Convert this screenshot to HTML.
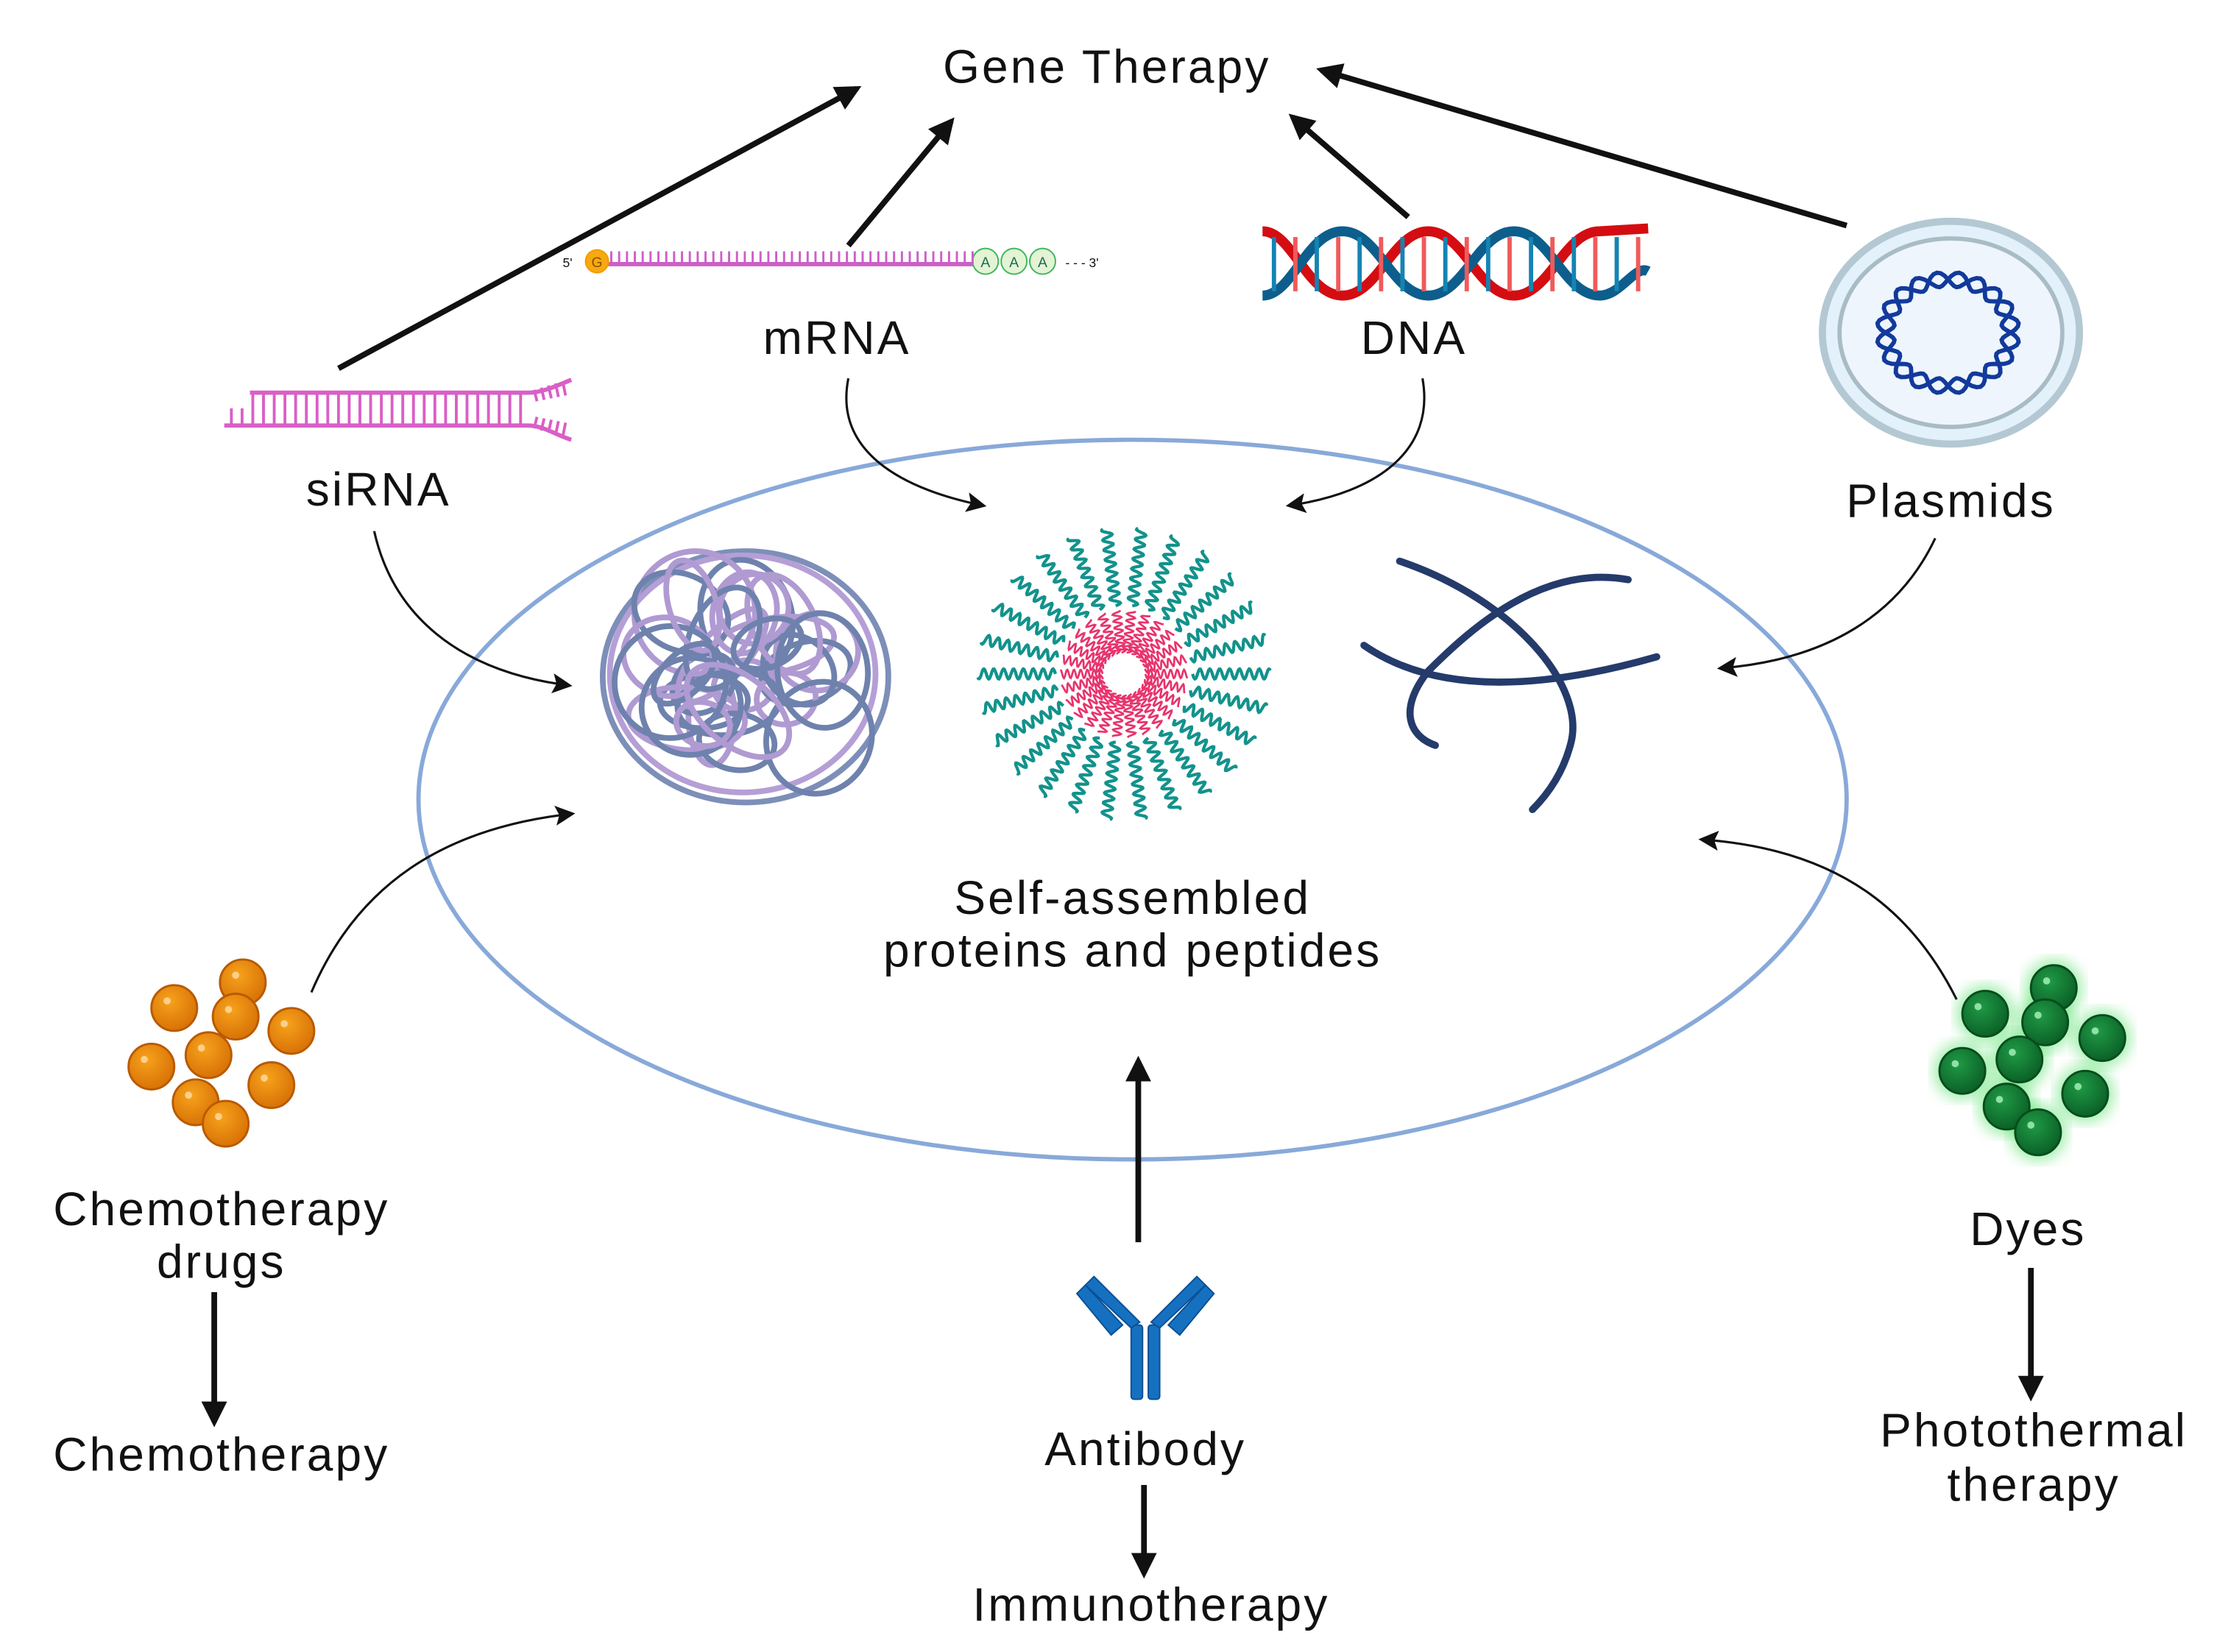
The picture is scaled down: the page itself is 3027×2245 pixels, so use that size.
<!DOCTYPE html>
<html><head><meta charset="utf-8"><style>
html,body{margin:0;padding:0;background:#fff;}
svg{display:block;}
text{font-family:"Liberation Sans",sans-serif;fill:#111;}
</style></head><body>
<svg id="s" width="3027" height="2245" viewBox="0 0 1560 1157" xmlns="http://www.w3.org/2000/svg">
<defs>
<marker id="ah" viewBox="0 0 10 10" refX="8" refY="5" markerWidth="14" markerHeight="14" orient="auto" markerUnits="userSpaceOnUse"><path d="M0,0 L10,5 L0,10 L2,5 z" fill="#111"/></marker>
<marker id="ab" viewBox="0 0 10 10" refX="8" refY="5" markerWidth="4.5" markerHeight="4.5" orient="auto"><path d="M0,0 L10,5 L0,10 z" fill="#111"/></marker>
<radialGradient id="og" cx="0.4" cy="0.35" r="0.7"><stop offset="0" stop-color="#f7a21c"/><stop offset="1" stop-color="#d66f05"/></radialGradient>
<radialGradient id="gg" cx="0.4" cy="0.35" r="0.7"><stop offset="0" stop-color="#1f9a45"/><stop offset="1" stop-color="#0a5d25"/></radialGradient>
<filter id="glow"><feGaussianBlur stdDeviation="5"/></filter>
</defs>

<ellipse cx="793" cy="560" rx="500" ry="252" fill="none" stroke="#88a9d9" stroke-width="3"/>

<g stroke="#111" stroke-width="4" fill="none">
<line x1="237" y1="258" x2="600" y2="62" marker-end="url(#ab)"/>
<line x1="594" y1="172" x2="666" y2="85" marker-end="url(#ab)"/>
<line x1="986" y1="152" x2="905" y2="82" marker-end="url(#ab)"/>
<line x1="1293" y1="158" x2="925" y2="49" marker-end="url(#ab)"/>
<line x1="797" y1="870" x2="797" y2="743" marker-end="url(#ab)"/>
<line x1="150" y1="905" x2="150" y2="996" marker-end="url(#ab)"/>
<line x1="801" y1="1040" x2="801" y2="1102" marker-end="url(#ab)"/>
<line x1="1422" y1="888" x2="1422" y2="978" marker-end="url(#ab)"/>
</g>
<g stroke="#111" stroke-width="1.6" fill="none">
<path d="M594,265 C585,310 620,340 688,354" marker-end="url(#ah)"/>
<path d="M996,265 C1005,315 965,345 903,354" marker-end="url(#ah)"/>
<path d="M262,372 C275,430 320,470 398,480" marker-end="url(#ah)"/>
<path d="M1355,377 C1330,430 1280,462 1205,468" marker-end="url(#ah)"/>
<path d="M218,695 C250,620 310,580 400,570" marker-end="url(#ah)"/>
<path d="M1370,700 C1340,640 1290,595 1192,588" marker-end="url(#ah)"/>
</g>

<g font-size="33" text-anchor="middle" letter-spacing="1.6">
<text x="775" y="58">Gene Therapy</text>
<text x="586" y="248">mRNA</text>
<text x="990" y="248">DNA</text>
<text x="265" y="354">siRNA</text>
<text x="1366" y="362">Plasmids</text>
<text x="793" y="640">Self-assembled</text>
<text x="793" y="677">proteins and peptides</text>
<text x="155" y="858">Chemotherapy</text>
<text x="155" y="895">drugs</text>
<text x="155" y="1030">Chemotherapy</text>
<text x="802" y="1026">Antibody</text>
<text x="806" y="1135">Immunotherapy</text>
<text x="1420" y="872">Dyes</text>
<text x="1424" y="1013">Photothermal</text>
<text x="1424" y="1051">therapy</text>
</g>

<g id="mrna">
<line x1="420" y1="185" x2="685" y2="185" stroke="#cc5fc6" stroke-width="3"/>
<text x="394" y="187" font-size="9">5'</text>
<circle cx="418" cy="183" r="8" fill="#f7a910" stroke="#f59a00"/>
<text x="418" y="187" font-size="10" text-anchor="middle" style="fill:#8a5000">G</text>
<circle cx="690" cy="183" r="9" fill="#e4f2d6" stroke="#3bb85a"/>
<circle cx="710" cy="183" r="9" fill="#e4f2d6" stroke="#3bb85a"/>
<circle cx="730" cy="183" r="9" fill="#e4f2d6" stroke="#3bb85a"/>
<text x="690" y="187" font-size="10" text-anchor="middle" style="fill:#1b6e4a">A</text>
<text x="710" y="187" font-size="10" text-anchor="middle" style="fill:#1b6e4a">A</text>
<text x="730" y="187" font-size="10" text-anchor="middle" style="fill:#1b6e4a">A</text>
<text x="746" y="187" font-size="9">- - - 3'</text>
</g>

<g fill="none" stroke-width="7">
<path d="M884,162 C905,162 915,207 940,207 C965,207 975,162 1000,162 C1025,162 1035,207 1060,207 C1085,207 1095,162 1120,162 L1154,160" stroke="#d40d12"/>
<path d="M884,207 C905,207 915,162 940,162 C965,162 975,207 1000,207 C1025,207 1035,162 1060,162 C1085,162 1095,207 1120,207 C1135,207 1145,185 1154,190" stroke="#0d5e8c"/>
</g>

<ellipse cx="1366" cy="233" rx="90" ry="78" fill="#e3f1fb" stroke="#b3c8d2" stroke-width="5"/>
<ellipse cx="1366" cy="233" rx="78" ry="66" fill="#eef5fc" stroke="#a9bcc6" stroke-width="3"/>
<g id="plas" fill="none" stroke="#123a9c" stroke-width="3"></g>

<g stroke="#d95fc7" stroke-width="3" fill="none">
<path d="M157,298 L370,298 C380,298 390,305 400,308"/>
<path d="M175,275 L370,275 C380,275 390,270 400,266"/>
</g>
<g id="sir" stroke="#d95fc7" stroke-width="2"></g>

<g id="glob" fill="none" stroke-width="4"></g>
<g id="mic" fill="none" stroke-width="2.2"></g>
<g fill="none" stroke="#243b6b" stroke-width="5" stroke-linecap="round">
<path d="M980,393 C1060,420 1110,480 1100,520 C1095,540 1085,555 1073,567"/>
<path d="M955,452 C1010,490 1090,480 1160,460"/>
<path d="M1140,406 C1080,395 1030,440 1000,470 C980,495 985,515 1005,522"/>
</g>

<g id="orange"></g>
<g id="green"></g>

<g fill="#1670c0" stroke="#0a4f93" stroke-width="1">
<rect x="792" y="928" width="8" height="52" rx="2"/>
<rect x="804" y="928" width="8" height="52" rx="2"/>
<path d="M792,930 L760,900 L766,894 L798,926 z"/>
<path d="M812,930 L844,900 L838,894 L806,926 z"/>
<path d="M760,900 L754,906 L778,935 L786,928 z"/>
<path d="M844,900 L850,906 L826,935 L818,928 z"/>
</g>
</svg>
<script>
var NS="http://www.w3.org/2000/svg";
function el(g,t,a){var e=document.createElementNS(NS,t);for(var k in a)e.setAttribute(k,a[k]);g.appendChild(e);return e;}
var s=document.getElementById('sir');
for(var x=162;x<372;x+=7.5){el(s,'line',{x1:x,y1:x<175?286:275,x2:x,y2:298});}
for(var i=0;i<5;i++){var x=374+i*5;el(s,'line',{x1:x,y1:273-i*1.5,x2:x+2,y2:281-i});el(s,'line',{x1:x,y1:300+i*1.5,x2:x+2,y2:292+i});}
var m=document.getElementById('mrna');
for(var x=428;x<682;x+=5.5){el(m,'line',{x1:x,y1:176,x2:x,y2:185,stroke:'#cc5fc6','stroke-width':1.5});}
var d=document.querySelector('svg');
for(var x=892;x<1150;x+=15){var c=(Math.floor((x-884)/15)%2)?'#f05a5a':'#1484b4';el(d,'line',{x1:x,y1:166,x2:x,y2:204,stroke:c,'stroke-width':3});}
var p=document.getElementById('plas');var dp='',dq='';
for(var i=0;i<=360;i+=3){var a=i*Math.PI/180,r1=44+6*Math.sin(i*Math.PI/18),r2=44-6*Math.sin(i*Math.PI/18);
dp+=(i?'L':'M')+(1364+r1*Math.cos(a)).toFixed(1)+','+(233+r1*0.85*Math.sin(a)).toFixed(1);
dq+=(i?'L':'M')+(1364+r2*Math.cos(a)).toFixed(1)+','+(233+r2*0.85*Math.sin(a)).toFixed(1);}
el(p,'path',{d:dp});el(p,'path',{d:dq});
var g=document.getElementById('glob');var seed=7;function rnd(){seed=(seed*9301+49297)%233280;return seed/233280;}
el(g,'ellipse',{cx:522,cy:474,rx:100,ry:88,stroke:'#7d8fb8'});
el(g,'ellipse',{cx:520,cy:472,rx:93,ry:83,stroke:'#b59fd6'});
for(var i=0;i<30;i++){var cx=522+(rnd()-0.5)*110,cy=474+(rnd()-0.5)*100,rx=14+rnd()*30,ry=14+rnd()*30;
el(g,'ellipse',{cx:cx,cy:cy,rx:rx,ry:ry,stroke:i%2?'#6e82ad':'#b09ad2',transform:'rotate('+(rnd()*180)+' '+cx+' '+cy+')'});}
var mc=document.getElementById('mic');
for(var k=0;k<26;k++){var a=k*2*Math.PI/26;var dd='';
for(var t=0;t<=1;t+=0.02){var r=15+t*30;var w=3*Math.sin(t*40);var x=787+r*Math.cos(a)-w*Math.sin(a),y=472+r*Math.sin(a)+w*Math.cos(a);dd+=(t?'L':'M')+x.toFixed(1)+','+y.toFixed(1);}
el(mc,'path',{d:dd,stroke:'#e8336d','stroke-width':1.4});
dd='';for(var t=0;t<=1;t+=0.01){var r=48+t*55;var w=3.5*Math.sin(t*50);var x=787+r*Math.cos(a)-w*Math.sin(a),y=472+r*Math.sin(a)+w*Math.cos(a);dd+=(t?'L':'M')+x.toFixed(1)+','+y.toFixed(1);}
el(mc,'path',{d:dd,stroke:'#13928c'});}
var o=document.getElementById('orange');
[[122,706],[170,688],[165,712],[204,722],[146,739],[106,747],[190,760],[137,772],[158,787]].forEach(function(c){el(o,'circle',{cx:c[0],cy:c[1],r:16,fill:'url(#og)',stroke:'#b85a00','stroke-width':1.5});el(o,'circle',{cx:c[0]-5,cy:c[1]-5,r:2.5,fill:'#fcd08a'});});
var gr=document.getElementById('green');
var G=[[1438,692],[1390,710],[1432,716],[1472,727],[1414,742],[1374,750],[1460,766],[1405,775],[1427,793]];
G.forEach(function(c){el(gr,'circle',{cx:c[0],cy:c[1],r:20,fill:'#3ddc55',opacity:0.5,filter:'url(#glow)'});});
G.forEach(function(c){el(gr,'circle',{cx:c[0],cy:c[1],r:16,fill:'url(#gg)',stroke:'#074d1c','stroke-width':1.5});el(gr,'circle',{cx:c[0]-5,cy:c[1]-5,r:2.5,fill:'#8fe0a5'});});
</script>
</body></html>
